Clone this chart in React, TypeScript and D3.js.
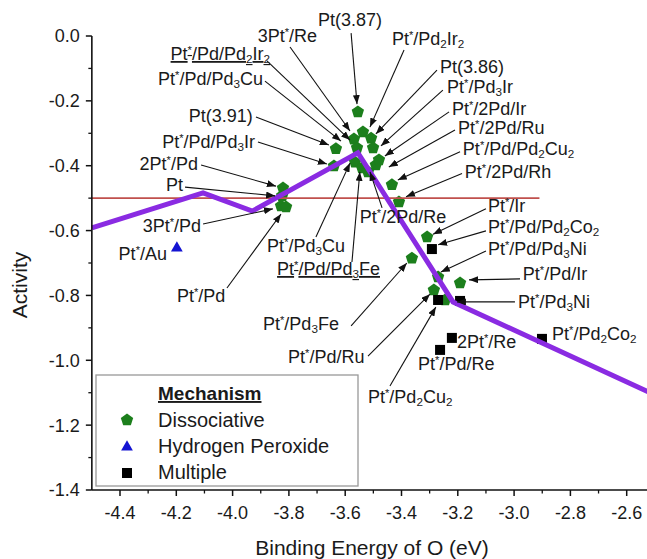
import React from "react";
import * as d3 from "d3";

// axis ticks
const xMajor = [-4.4, -4.2, -4.0, -3.8, -3.6, -3.4, -3.2, -3.0, -2.8, -2.6];
const xMinor = [-4.3, -4.1, -3.9, -3.7, -3.5, -3.3, -3.1, -2.9, -2.7];
const yMajor = [0, -0.2, -0.4, -0.6, -0.8, -1.0, -1.2, -1.4];
const yMinor = [-0.1, -0.3, -0.5, -0.7, -0.9, -1.1, -1.3];

// volcano (model) line
const volcanoEnergy = [-4.5, -4.105, -3.93, -3.555, -3.217, -2.5];
const volcanoActivity = [-0.592, -0.484, -0.54, -0.36, -0.82, -1.107];

// reference activity line (Pt)
const refActivity = -0.5;
const refRange = [-4.5, -2.91];

// points by mechanism: [name, binding energy, activity]
const dissociative: [string, number, number][] = [
  ["Pt(3.87)", -3.555, -0.234],
  ["Pt*/Pd2Ir2", -3.537, -0.296],
  ["Pt(3.86)", -3.508, -0.315],
  ["3Pt*/Re", -3.569, -0.318],
  ["Pt*/Pd3Ir", -3.501, -0.345],
  ["Pt*/Pd/Pd2Ir2", -3.558, -0.345],
  ["Pt(3.91)", -3.633, -0.348],
  ["Pt*/Pd/Pd3Ir", -3.64, -0.401],
  ["Pt*/Pd3Cu", -3.565, -0.389],
  ["Pt*/Pd/Pd3Fe", -3.54, -0.407],
  ["Pt*/2Pd/Ir", -3.491, -0.398],
  ["Pt*/2Pd/Ru", -3.48, -0.382],
  ["Pt*/2Pd/Re", -3.519, -0.419],
  ["Pt*/Pd/Pd2Cu2", -3.434, -0.459],
  ["Pt*/2Pd/Rh", -3.409, -0.512],
  ["2Pt*/Pd", -3.821, -0.469],
  ["Pt", -3.824, -0.493],
  ["3Pt*/Pd", -3.828, -0.524],
  ["Pt*/Pd", -3.81, -0.527],
  ["Pt*/Ir", -3.309, -0.62],
  ["Pt*/Pd3Fe", -3.363, -0.685],
  ["Pt*/Pd/Pd3Ni", -3.27, -0.743],
  ["Pt*/Pd/Ir", -3.192, -0.762],
  ["Pt*/Pd/Ru", -3.285, -0.783],
  ["Pt*/Pd2Cu2", -3.245, -0.814],
];
const peroxide: [string, number, number][] = [["Pt*/Au", -4.198, -0.654]];
const multiple: [string, number, number][] = [
  ["Pt*/Pd/Pd2Co2", -3.292, -0.657],
  ["Pt*/Pd2Cu2 (m)", -3.27, -0.814],
  ["Pt*/Pd3Ni", -3.192, -0.817],
  ["2Pt*/Re", -3.221, -0.931],
  ["Pt*/Pd/Re", -3.263, -0.968],
  ["Pt*/Pd2Co2", -2.901, -0.934],
];

// labels: text ('*' = superscript star, '_n' = subscript), label anchor, position, arrow from -> to (data units)
type Note = { t: string; a: string; x: number; y: number; u?: boolean; arrow?: number[] };
const notes: Note[] = [
  { t: "3Pt*/Re", a: "end", x: -3.7, y: -0.0185, arrow: [-3.796, -0.034, -3.583, -0.293] },
  { t: "Pt(3.87)", a: "middle", x: -3.583, y: 0.031, arrow: [-3.579, 0.009, -3.558, -0.21] },
  { t: "Pt*/Pd_2Ir_2", a: "start", x: -3.434, y: -0.028, arrow: [-3.391, -0.043, -3.512, -0.281] },
  { t: "Pt*/Pd/Pd_2Ir_2", a: "end", x: -3.867, y: -0.074, u: true, arrow: [-3.878, -0.077, -3.583, -0.321] },
  { t: "Pt*/Pd/Pd_3Cu", a: "end", x: -3.892, y: -0.151, arrow: [-3.885, -0.139, -3.615, -0.324] },
  { t: "Pt(3.91)", a: "end", x: -3.928, y: -0.265, arrow: [-3.917, -0.25, -3.658, -0.336] },
  { t: "Pt*/Pd/Pd_3Ir", a: "end", x: -3.92, y: -0.345, arrow: [-3.91, -0.327, -3.665, -0.395] },
  { t: "2Pt*/Pd", a: "end", x: -4.123, y: -0.413, arrow: [-4.112, -0.398, -3.846, -0.463] },
  { t: "Pt", a: "end", x: -4.176, y: -0.478, arrow: [-4.169, -0.466, -3.849, -0.493] },
  { t: "3Pt*/Pd", a: "end", x: -4.112, y: -0.604, arrow: [-4.105, -0.58, -3.857, -0.533] },
  { t: "Pt*/Au", a: "end", x: -4.233, y: -0.691 },
  { t: "Pt*/Pd", a: "middle", x: -4.112, y: -0.82, arrow: [-4.02, -0.777, -3.828, -0.549] },
  { t: "Pt*/Pd_3Cu", a: "middle", x: -3.739, y: -0.666, arrow: [-3.704, -0.62, -3.583, -0.392] },
  { t: "Pt*/Pd/Pd_3Fe", a: "start", x: -3.842, y: -0.737, u: true, arrow: [-3.576, -0.697, -3.548, -0.419] },
  { t: "Pt*/Pd_3Fe", a: "start", x: -3.892, y: -0.907, arrow: [-3.579, -0.894, -3.381, -0.7] },
  { t: "Pt*/Pd/Ru", a: "start", x: -3.803, y: -1.008, arrow: [-3.519, -0.987, -3.299, -0.796] },
  { t: "Pt*/Pd_2Cu_2", a: "start", x: -3.519, y: -1.132, arrow: [-3.441, -1.079, -3.278, -0.836] },
  { t: "Pt*/2Pd/Re", a: "start", x: -3.548, y: -0.577, arrow: [-3.469, -0.53, -3.512, -0.419] },
  { t: "Pt(3.86)", a: "start", x: -3.263, y: -0.114, arrow: [-3.274, -0.105, -3.491, -0.302] },
  { t: "Pt*/Pd_3Ir", a: "start", x: -3.238, y: -0.176, arrow: [-3.253, -0.167, -3.473, -0.339] },
  { t: "Pt*/2Pd/Ir", a: "start", x: -3.221, y: -0.244, arrow: [-3.231, -0.234, -3.459, -0.37] },
  { t: "Pt*/2Pd/Ru", a: "start", x: -3.199, y: -0.302, arrow: [-3.21, -0.29, -3.445, -0.404] },
  { t: "Pt*/Pd/Pd_2Cu_2", a: "start", x: -3.182, y: -0.367, arrow: [-3.192, -0.357, -3.413, -0.444] },
  { t: "Pt*/2Pd/Rh", a: "start", x: -3.175, y: -0.437, arrow: [-3.185, -0.424, -3.384, -0.496] },
  { t: "Pt*/Ir", a: "start", x: -3.093, y: -0.543, arrow: [-3.1, -0.533, -3.288, -0.611] },
  { t: "Pt*/Pd/Pd_2Co_2", a: "start", x: -3.093, y: -0.607, arrow: [-3.1, -0.601, -3.27, -0.644] },
  { t: "Pt*/Pd/Pd_3Ni", a: "start", x: -3.093, y: -0.675, arrow: [-3.1, -0.663, -3.26, -0.728] },
  { t: "Pt*/Pd/Ir", a: "start", x: -2.969, y: -0.752, arrow: [-2.979, -0.749, -3.16, -0.752] },
  { t: "Pt*/Pd_3Ni", a: "start", x: -2.986, y: -0.839, arrow: [-2.997, -0.82, -3.203, -0.82] },
  { t: "Pt*/Pd_2Co_2", a: "start", x: -2.865, y: -0.937 },
  { t: "2Pt*/Re", a: "start", x: -3.203, y: -0.962 },
  { t: "Pt*/Pd/Re", a: "start", x: -3.341, y: -1.03 },
];

const GREEN = "#1c7f1c";
const BLUE = "#1414d2";
const PURPLE = "#8a2be2";
const RED = "#c0504d";
const FONT = "'Liberation Sans', Arial, sans-serif";

const pentagon = (r: number) => {
  const pts = d3.range(5).map((k) => {
    const a = -Math.PI / 2 + (k * 2 * Math.PI) / 5;
    return [r * Math.cos(a), r * Math.sin(a)];
  });
  return "M" + pts.map((p) => p.join(",")).join("L") + "Z";
};

// turn "Pt*/Pd_2Ir_2" into tspans
const richText = (s: string) => {
  const out: React.ReactNode[] = [];
  let buf = "";
  let k = 0;
  const flush = () => {
    if (buf) out.push(<tspan key={k++}>{buf}</tspan>);
    buf = "";
  };
  for (let i = 0; i < s.length; i++) {
    const c = s[i];
    if (c === "*") {
      flush();
      out.push(<tspan key={k++} fontSize="0.62em" baselineShift="55%">*</tspan>);
    } else if (c === "_") {
      flush();
      out.push(<tspan key={k++} fontSize="0.65em" baselineShift="-25%">{s[i + 1]}</tspan>);
      i++;
    } else buf += c;
  }
  flush();
  return out;
};

export default function App() {
  const x = d3.scaleLinear().domain([-4.5, -2.5]).range([91.85, 654.85]);
  const y = d3.scaleLinear().domain([-1.4, 0]).range([490, 36]);

  const volcano = d3
    .line<number>()
    .x((d) => x(d))
    .y((_, i) => y(volcanoActivity[i]))(volcanoEnergy);

  const x0 = x(-4.5);
  const yb = y(-1.4);

  return (
    <div>
      <style>{"body{margin:0}"}</style>
      <svg width={647} height={559} style={{ display: "block", fontFamily: FONT }}>
        <defs>
          <marker id="arr" viewBox="0 0 10 10" refX="10" refY="5" markerWidth="9" markerHeight="7"
            orient="auto" markerUnits="userSpaceOnUse" preserveAspectRatio="none">
            <path d="M0,0L10,5L0,10Z" fill="#111" />
          </marker>
        </defs>
        <rect width={647} height={559} fill="#fff" />

        {/* points */}
        {dissociative.map((d, i) => (
          <path key={"d" + i} d={pentagon(6.5)} transform={`translate(${x(d[1])},${y(d[2])})`} fill={GREEN} />
        ))}
        {peroxide.map((d, i) => (
          <path key={"p" + i} d={d3.symbol(d3.symbolTriangle, 60)() as string}
            transform={`translate(${x(d[1])},${y(d[2])})`} fill={BLUE} />
        ))}
        {multiple.map((d, i) => (
          <rect key={"m" + i} x={x(d[1]) - 5} y={y(d[2]) - 5} width={10} height={10} fill="#000" />
        ))}

        {/* reference line */}
        <line x1={x(refRange[0])} x2={x(refRange[1])} y1={y(refActivity)} y2={y(refActivity)}
          stroke={RED} strokeWidth={1.6} />

        {/* volcano */}
        <path d={volcano as string} fill="none" stroke={PURPLE} strokeWidth={5} strokeLinejoin="miter" />

        {/* annotations */}
        {notes.map((n, i) => (
          <g key={"n" + i}>
            {n.arrow && (
              <line x1={x(n.arrow[0])} y1={y(n.arrow[1])} x2={x(n.arrow[2])} y2={y(n.arrow[3])}
                stroke="#111" strokeWidth={1.1} markerEnd="url(#arr)" />
            )}
            <text x={x(n.x)} y={y(n.y)} textAnchor={n.a as any} fontSize={18} fill="#1a1a1a"
              textDecoration={n.u ? "underline" : undefined}>
              {richText(n.t)}
            </text>
          </g>
        ))}

        {/* axes */}
        <line x1={x0} x2={x0} y1={y(0)} y2={yb} stroke="#111" strokeWidth={1.6} />
        <line x1={x0} x2={647} y1={yb} y2={yb} stroke="#111" strokeWidth={1.6} />
        {yMajor.map((v) => (
          <g key={"ym" + v}>
            <line x1={x0 - 6} x2={x0} y1={y(v)} y2={y(v)} stroke="#111" strokeWidth={1.5} />
            <text x={x0 - 12} y={y(v)} dy="0.36em" textAnchor="end" fontSize={18} fill="#1a1a1a">
              {v.toFixed(1)}
            </text>
          </g>
        ))}
        {yMinor.map((v) => (
          <line key={"yn" + v} x1={x0 - 3.5} x2={x0} y1={y(v)} y2={y(v)} stroke="#111" strokeWidth={1.3} />
        ))}
        {xMajor.map((v) => (
          <g key={"xm" + v}>
            <line x1={x(v)} x2={x(v)} y1={yb} y2={yb + 6} stroke="#111" strokeWidth={1.5} />
            <text x={x(v)} y={yb + 29} textAnchor="middle" fontSize={18} fill="#1a1a1a">
              {v.toFixed(1)}
            </text>
          </g>
        ))}
        {xMinor.map((v) => (
          <line key={"xn" + v} x1={x(v)} x2={x(v)} y1={yb} y2={yb + 3.5} stroke="#111" strokeWidth={1.3} />
        ))}
        <text x={372} y={555} textAnchor="middle" fontSize={21} fill="#1a1a1a">Binding Energy of O (eV)</text>
        <text transform="translate(27,285) rotate(-90)" textAnchor="middle" fontSize={21} fill="#1a1a1a">Activity</text>

        {/* legend */}
        <g>
          <rect x={96} y={375} width={262} height={111} fill="#fff" stroke="#999" strokeWidth={1.3} />
          <text x={158} y={400} fontSize={19} fontWeight="bold" textDecoration="underline" fill="#1a1a1a">Mechanism</text>
          <path d={pentagon(6.5)} transform="translate(127,420)" fill={GREEN} />
          <text x={158} y={427} fontSize={20} fill="#1a1a1a">Dissociative</text>
          <path d={d3.symbol(d3.symbolTriangle, 60)() as string} transform="translate(127,447)" fill={BLUE} />
          <text x={158} y={453} fontSize={20} fill="#1a1a1a">Hydrogen Peroxide</text>
          <rect x={122} y={468} width={10} height={10} fill="#000" />
          <text x={158} y={479} fontSize={20} fill="#1a1a1a">Multiple</text>
        </g>
      </svg>
    </div>
  );
}
